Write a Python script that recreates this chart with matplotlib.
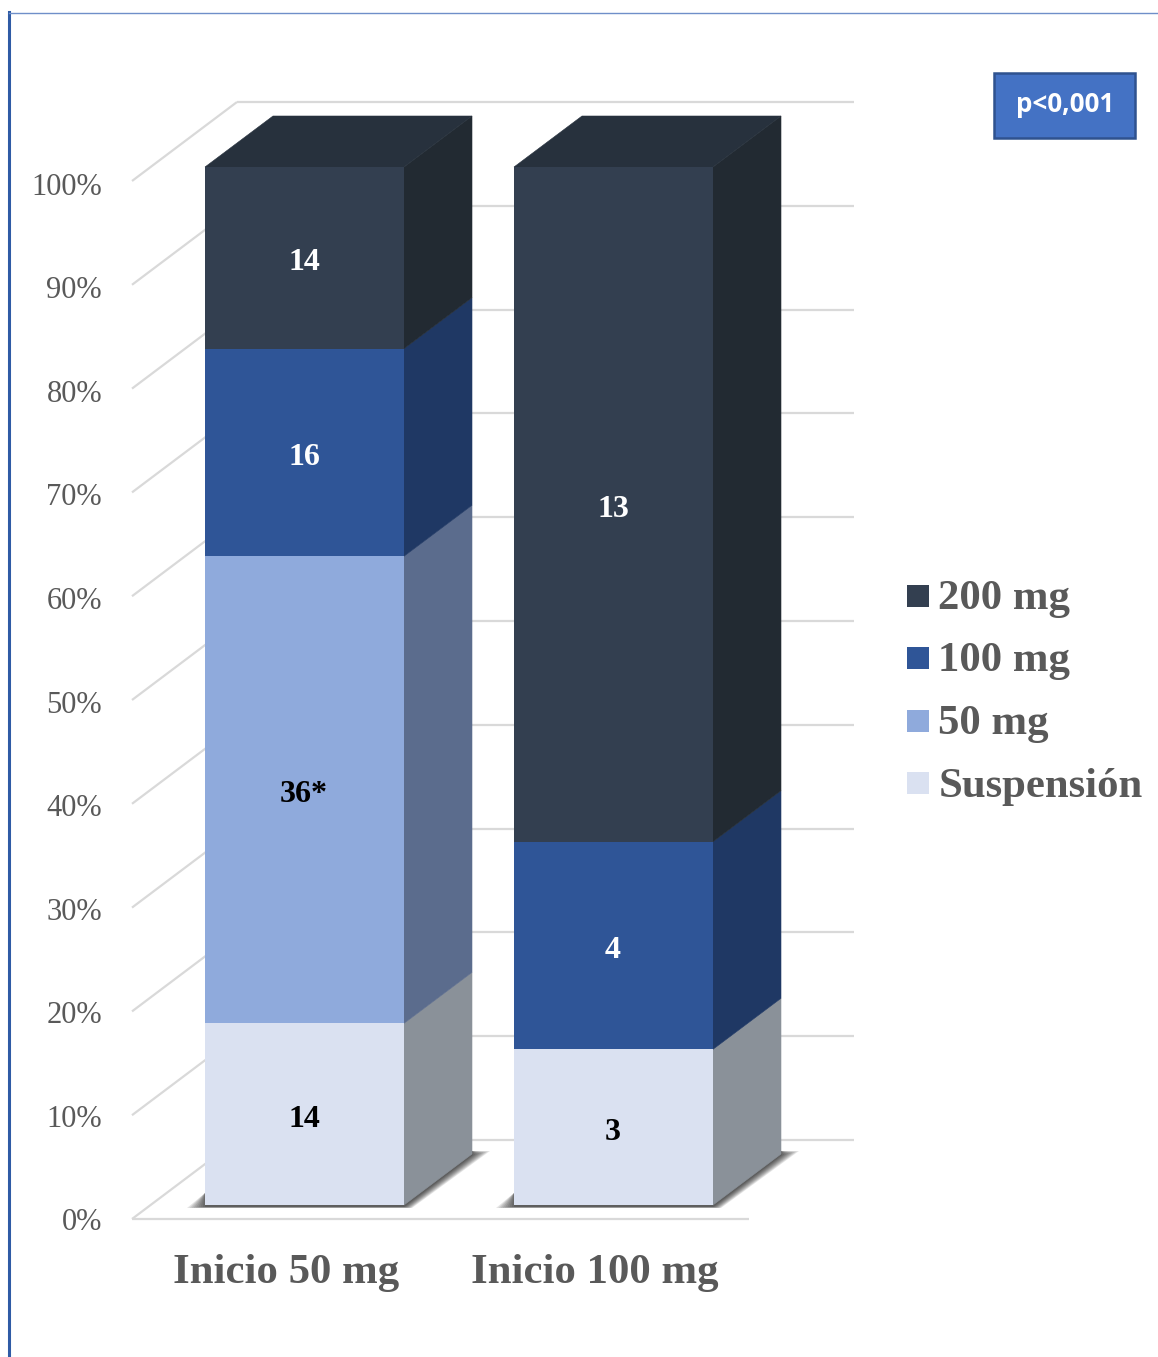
import matplotlib
matplotlib.use("Agg")
import matplotlib.pyplot as plt
from matplotlib.patches import Polygon, Rectangle
from matplotlib.transforms import Affine2D

categories = ["Inicio 50 mg", "Inicio 100 mg"]
series_names = ["Suspensión", "50 mg", "100 mg", "200 mg"]
counts_suspension = [14, 3]
counts_50 = [36, 0]
counts_100 = [16, 4]
counts_200 = [14, 13]
count_labels = {(1, 0): "36*"}
y_ticks = [0, 10, 20, 30, 40, 50, 60, 70, 80, 90, 100]
p_text = "p<0,001"

front_colors = ["#DAE1F1", "#8FAADC", "#2F5597", "#333F50"]
side_colors = ["#8A9199", "#5B6C8D", "#1F3864", "#222A32"]
top_color = "#27313D"
text_colors = ["black", "black", "white", "white"]
grid_color = "#D9D9D9"
label_color = "#595959"
frame_color = "#2F5BA5"

W, H = 1158, 1357
PX_PER_CAT = 309.0
PX_PER_PCT = 10.38
CAT0_PX = 304.5
ZERO_PX = 1205.0

plt.rcParams["font.family"] = ["Liberation Serif", "DejaVu Serif"]
fig = plt.figure(figsize=(W / 100, H / 100), dpi=100, facecolor="white")
ax = fig.add_axes([0, 0, 1, 1])
ax.set_xlim(-CAT0_PX / PX_PER_CAT, (W - CAT0_PX) / PX_PER_CAT)
ax.set_ylim((ZERO_PX - H) / PX_PER_PCT, ZERO_PX / PX_PER_PCT)
ax.axis("off")

# Pixel-space transform (origin top left) for the chart furniture
px_tf = Affine2D().scale(1 / W, -1 / H).translate(0, 1) + fig.transFigure


def dx(px):
    return px / PX_PER_CAT


def dy(px):
    return px / PX_PER_PCT


BAR_W = dx(199)
DEPTH_X, DEPTH_Y = dx(68), dy(51)

# Floor and walls
wall_x0 = dx(132 - CAT0_PX)
wall_dx, wall_dy = dx(105), dy(79)
wall_x1 = dx(854 - CAT0_PX)
floor_x1 = dx(749 - CAT0_PX)
wall_drop = dy(14)
for t in y_ticks:
    y = t - wall_drop
    ax.plot([wall_x0, wall_x0 + wall_dx], [y, y + wall_dy], color=grid_color,
            lw=1.6, solid_capstyle="butt", zorder=1)
    ax.plot([wall_x0 + wall_dx, wall_x1], [y + wall_dy] * 2, color=grid_color,
            lw=1.6, solid_capstyle="butt", zorder=1)
    ax.text(dx(102 - CAT0_PX), t * 0.998 - wall_drop - dy(4), f"{t}%", ha="right",
            va="center", fontsize=22, color=label_color, zorder=5)
ax.plot([wall_x0, floor_x1], [-wall_drop] * 2, color=grid_color, lw=1.6,
        solid_capstyle="butt", zorder=1)

# Stacked boxes
stacks = [counts_suspension, counts_50, counts_100, counts_200]
for i, name in enumerate(categories):
    total = sum(s[i] for s in stacks)
    x0 = i - BAR_W / 2
    x1 = i + BAR_W / 2

    # Soft ground shadow, built from nested translucent outlines
    outer = [(x0 - dx(18), -dy(3)), (x1 + dx(8), -dy(3)),
             (x1 + DEPTH_X + dx(18), DEPTH_Y + dy(3)), (x1 + DEPTH_X, DEPTH_Y + dy(3)),
             (x1, dy(30)), (x0, dy(12))]
    inner = [(x0, -dy(2)), (x1, -dy(2)),
             (x1 + DEPTH_X + dx(1), DEPTH_Y - dy(1)), (x1 + DEPTH_X, DEPTH_Y + dy(3)),
             (x1, dy(30)), (x0, dy(12))]
    layers = 9
    for k in range(layers):
        t = k / (layers - 1)
        poly = [(a[0] + (b[0] - a[0]) * t, a[1] + (b[1] - a[1]) * t)
                for a, b in zip(outer, inner)]
        ax.add_patch(Polygon(poly, closed=True, fc="black", ec="none",
                             alpha=0.10, zorder=2))

    base = 0.0
    for j, s in enumerate(stacks):
        v = s[i]
        if v == 0:
            continue
        h = 100.0 * v / total
        ax.bar(i, h, BAR_W, bottom=base, color=front_colors[j], lw=0, zorder=4)
        ax.add_patch(Polygon(
            [(x1, base), (x1 + DEPTH_X, base + DEPTH_Y),
             (x1 + DEPTH_X, base + h + DEPTH_Y), (x1, base + h)],
            closed=True, fc=side_colors[j], ec=side_colors[j], lw=0.4, zorder=3))
        ax.text(i - dx(0.5), base + h / 2 + dy(-5), count_labels.get((j, i), str(v)),
                ha="center", va="center", fontsize=23, fontweight="bold",
                color=text_colors[j], zorder=6)
        base += h
    ax.add_patch(Polygon(
        [(x0, 100), (x1, 100), (x1 + DEPTH_X, 100 + DEPTH_Y),
         (x0 + DEPTH_X, 100 + DEPTH_Y)],
        closed=True, fc=top_color, ec=top_color, lw=0.4, zorder=3.5))

    ax.text(i - dx(18.5), -dy(68.5), name, ha="center", va="center", fontsize=30.8,
            fontweight="bold", color=label_color, zorder=5)

# Legend
legend_y = [783, 720.5, 658, 595.5]
for j, name in enumerate(series_names):
    ypx = legend_y[j]
    ax.add_patch(Rectangle((907, ypx - 11), 22, 22, fc=front_colors[j], ec="none",
                           transform=px_tf, zorder=5))
    ax.text(938.5, ypx + 3.5, name, ha="left", va="center", fontsize=30.8,
            fontweight="bold", color=label_color, transform=px_tf, zorder=5)

# Significance box
ax.add_patch(Rectangle((994, 72.5), 140.5, 65, fc="#4472C4", ec="#2F528F", lw=1.8,
                       transform=px_tf, zorder=5))
ax.text(1065, 104, p_text, ha="center", va="center", fontsize=18.7, fontweight="bold",
        family=["Open Sans", "DejaVu Sans"], color="white", transform=px_tf, zorder=6)

# Frame: heavy left edge, hairline top
ax.add_line(plt.Line2D([9, 9], [12, 1357], color=frame_color, lw=2.2,
                       transform=px_tf, zorder=7))
ax.add_line(plt.Line2D([9, 1158], [12.5, 12.5], color="#6F8FC9", lw=1.0,
                       transform=px_tf, zorder=7))

fig.savefig("out.png", dpi=100, facecolor="white")
